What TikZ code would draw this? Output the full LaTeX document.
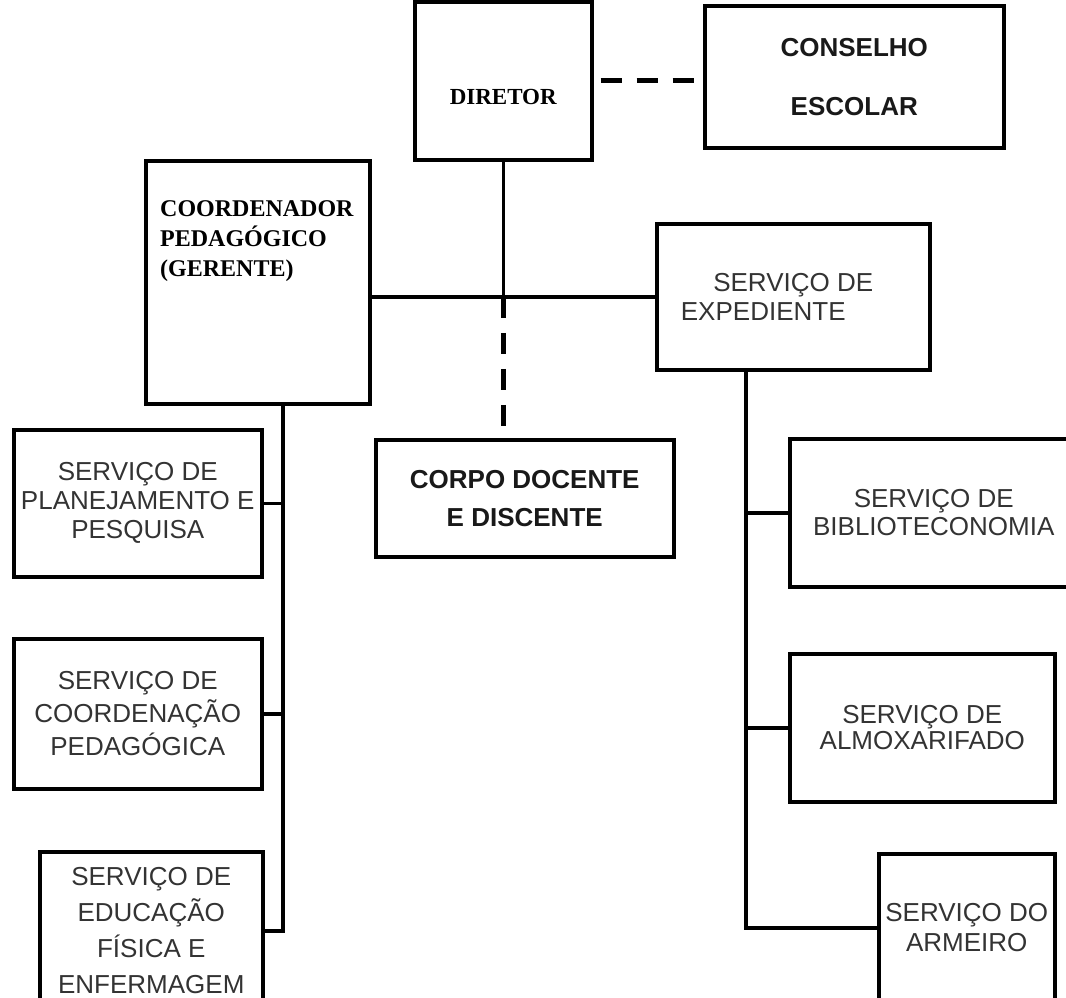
\documentclass[tikz,border=0pt]{standalone}
\usepackage{fontspec}
\setmainfont{Liberation Serif}
\setsansfont{Liberation Sans}
\usetikzlibrary{positioning}
\usetikzlibrary{calc}
\tikzset{
    % Every unit of the chart is a plain heavy box
    unit/.style={
        draw, line width=3.5pt, anchor=north west, inner sep=0pt,
        align=center},
%
    % Plain sans serif text, #1 is the line spacing
    sans text/.style={font=\sffamily\fontsize{26}{#1}\selectfont, text=black!80},
    sans text/.default=29,
    % Heavier sans serif text for the council and the teaching body
    sans bold/.style={font=\sffamily\bfseries\fontsize{26}{#1}\selectfont,
        text=black!90},
    sans bold/.default=38,
    % Bold roman text used by the director and the coordinator
    serif bold/.style={font=\rmfamily\bfseries\fontsize{#1}{30}\selectfont},
    serif bold/.default=24,
%
    % Solid line of command and dashed line of advice
    command line/.style={line width=3.5pt},
    advice line/.style={line width=5pt, dash pattern=on 21pt off 15pt}}

\begin{document}
\begin{tikzpicture}[x=1pt, y=-1pt]
\useasboundingbox (0,0) rectangle (1066,997);

% Director and school council
\node [unit, serif bold=23,
    minimum width=177, minimum height=158, text height=50pt, text depth=2pt]
    (diretor) at (413,0) {DIRETOR};
\node [unit, sans bold=59, minimum width=299, minimum height=142]
    (conselho) at (703,4) {CONSELHO\\ESCOLAR};
\draw [advice line, dash phase=29pt]
    (diretor.east) -- (diretor.east -| conselho.west);

% Coordinator and office service
\node [unit, minimum width=224, minimum height=243] (coord) at (144,159) {};
\node [serif bold, anchor=north west, align=left, inner sep=0pt]
    (coord text) at ($(coord.north west)+(16,41)$)
    {COORDENADOR\\PEDAG\'OGICO\\(GERENTE)};
\node [unit, sans text, minimum width=273, minimum height=146]
    (expediente) at (655,222) {SERVI\c{C}O DE\\EXPEDIENTE\hspace*{60pt}};

\draw [command line] (diretor.south) -- (diretor.south |- expediente.west);
\draw [command line] (coord.east |- expediente.west) -- (expediente.west);

% Teaching body
\node [unit, sans bold, minimum width=298, minimum height=117]
    (corpo) at (374,438) {CORPO DOCENTE\\E DISCENTE};
\draw [advice line]
    (diretor.south |- expediente.west) -- (diretor.south |- corpo.north);

% Services under the coordinator
\node [unit, sans text, minimum width=248, minimum height=147]
    (planejamento) at (12,428) {SERVI\c{C}O DE\\PLANEJAMENTO E\\PESQUISA};
\node [unit, sans text=33, minimum width=248, minimum height=150]
    (coordenacao) at (12,637) {SERVI\c{C}O DE\\COORDENA\c{C}\~AO\\PEDAG\'OGICA};
\node [unit, sans text=36, minimum width=223, minimum height=158]
    (educacao) at (38,850)
    {SERVI\c{C}O DE\\EDUCA\c{C}\~AO\\F\'ISICA E\\ENFERMAGEM};

\coordinate (left trunk) at ($(coord.south)+(25,0)$);
\draw [command line] (left trunk) |- (educacao.east);
\draw [command line] (planejamento.east) -- (planejamento.east -| left trunk);
\draw [command line] (coordenacao.east) -- (coordenacao.east -| left trunk);

% Services under the office
\node [unit, sans text=28, minimum width=288, minimum height=148]
    (biblioteconomia) at (788,437) {SERVI\c{C}O DE\\BIBLIOTECONOMIA};
\node [unit, sans text=26, minimum width=265, minimum height=148]
    (almoxarifado) at (788,652) {SERVI\c{C}O DE\\ALMOXARIFADO};
\node [unit, sans text=30, minimum width=176, minimum height=148]
    (armeiro) at (877,852) {SERVI\c{C}O DO\\ARMEIRO};

\coordinate (right trunk) at ($(expediente.south)+(-47.5,0)$);
\draw [command line] (right trunk) |- (armeiro.west);
\draw [command line]
    (biblioteconomia.west) -- (biblioteconomia.west -| right trunk);
\draw [command line] (almoxarifado.west) -- (almoxarifado.west -| right trunk);

\end{tikzpicture}
\end{document}
